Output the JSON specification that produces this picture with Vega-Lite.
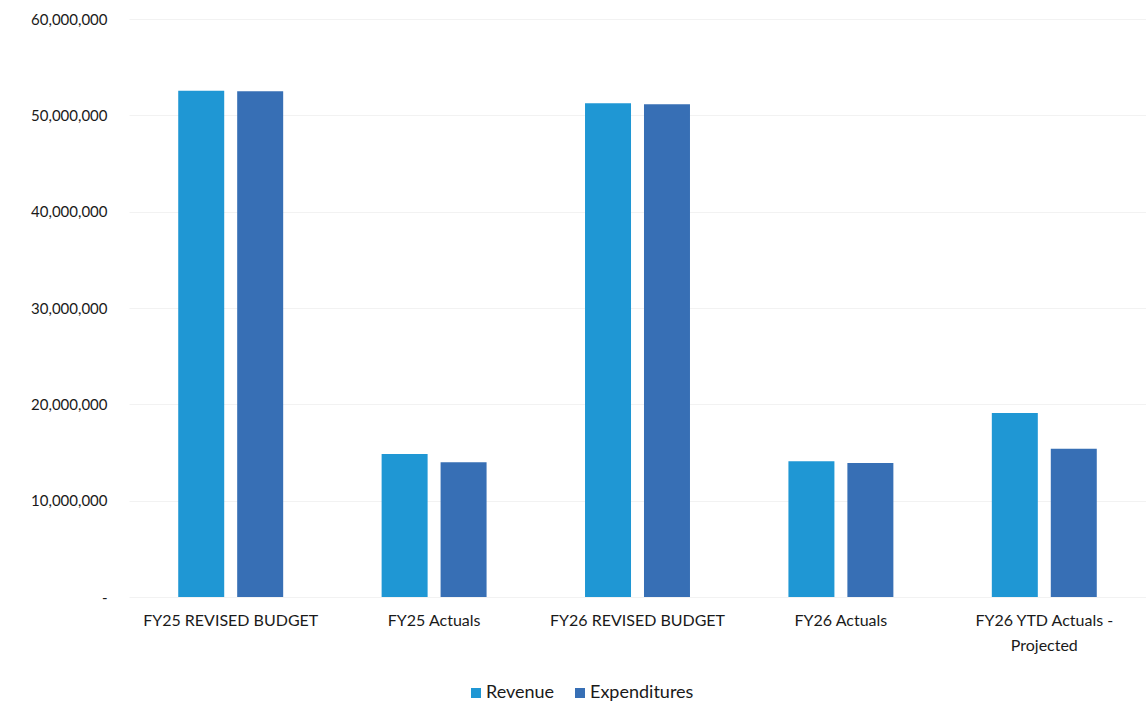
{
  "$schema": "https://vega.github.io/schema/vega-lite/v6.json",
  "autosize": {"type": "none"},
  "padding": {"left": 129, "top": 19, "right": 0, "bottom": 107},
  "width": 1017,
  "height": 578,
  "background": "white",
  "config": {
    "view": {"stroke": null},
    "font": "Lato",
    "axis": {"labelFont": "Lato", "labelColor": "#1a1a1a"},
    "legend": {"labelFont": "Lato"}
  },
  "data": {
    "values": [
      {"category": "FY25 REVISED BUDGET", "series": "Revenue", "value": 52550000},
      {"category": "FY25 REVISED BUDGET", "series": "Expenditures", "value": 52500000},
      {"category": "FY25 Actuals", "series": "Revenue", "value": 14850000},
      {"category": "FY25 Actuals", "series": "Expenditures", "value": 14000000},
      {"category": "FY26 REVISED BUDGET", "series": "Revenue", "value": 51250000},
      {"category": "FY26 REVISED BUDGET", "series": "Expenditures", "value": 51150000},
      {"category": "FY26 Actuals", "series": "Revenue", "value": 14100000},
      {"category": "FY26 Actuals", "series": "Expenditures", "value": 13900000},
      {"category": "FY26 YTD Actuals - Projected", "series": "Revenue", "value": 19100000},
      {"category": "FY26 YTD Actuals - Projected", "series": "Expenditures", "value": 15400000}
    ]
  },
  "mark": {"type": "bar"},
  "encoding": {
    "x": {
      "field": "category",
      "type": "nominal",
      "sort": null,
      "scale": {"paddingInner": 0.484, "paddingOuter": 0.242},
      "axis": {
        "title": null,
        "labelAngle": 0,
        "labelFontSize": 16,
        "labelPadding": 15,
        "labelLineHeight": 25,
        "domain": false,
        "ticks": false,
        "labelExpr": "datum.label == 'FY26 YTD Actuals - Projected' ? ['FY26 YTD Actuals  -', 'Projected'] : datum.label"
      }
    },
    "xOffset": {
      "field": "series",
      "type": "nominal",
      "sort": ["Revenue", "Expenditures"],
      "scale": {"paddingInner": 0.22, "paddingOuter": 0}
    },
    "y": {
      "field": "value",
      "type": "quantitative",
      "scale": {"domain": [0, 60000000], "nice": false},
      "axis": {
        "title": null,
        "values": [0, 10000000, 20000000, 30000000, 40000000, 50000000, 60000000],
        "labelFontSize": 15,
        "labelPadding": 22,
        "domain": false,
        "ticks": false,
        "grid": true,
        "gridColor": "#f2f2f2",
        "gridWidth": 1,
        "labelExpr": "datum.value == 0 ? '-\u2003' : format(datum.value, ',')"
      }
    },
    "color": {
      "field": "series",
      "type": "nominal",
      "sort": ["Revenue", "Expenditures"],
      "scale": {"domain": ["Revenue", "Expenditures"], "range": ["#1f97d4", "#376fb5"]},
      "legend": {
        "title": null,
        "orient": "none",
        "direction": "horizontal",
        "legendX": 338,
        "legendY": 665,
        "symbolType": "square",
        "symbolSize": 100,
        "symbolStrokeWidth": 0,
        "labelFontSize": 18,
        "labelColor": "#1a1a1a",
        "columnPadding": 16,
        "labelOffset": 1
      }
    }
  }
}
